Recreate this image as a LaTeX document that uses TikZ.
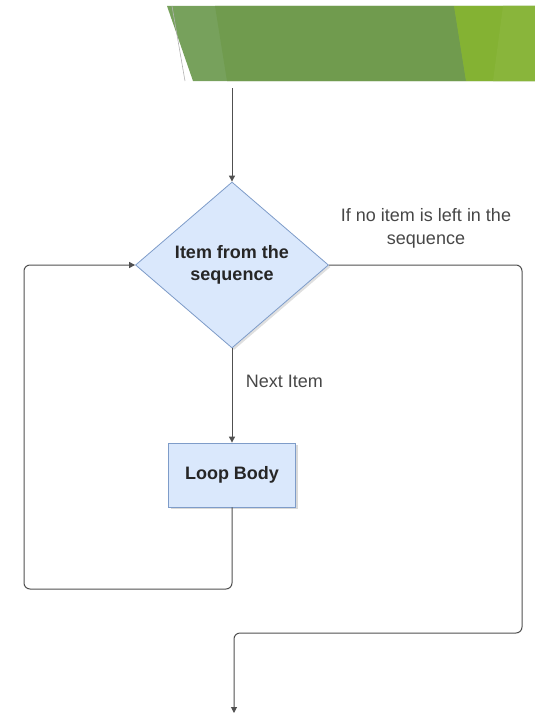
\documentclass[tikz,border=0pt]{standalone}
\usepackage{fontspec}
\setmainfont{Liberation Sans}
\usepackage{xcolor}
\usepackage{tikz}
\usetikzlibrary{positioning, arrows.meta, shapes.geometric, shadows}
\definecolor{boxfill}{HTML}{DAE8FC}
\definecolor{boxline}{HTML}{7E9CC9}
\definecolor{flowgray}{HTML}{505050}
\definecolor{greenpale}{HTML}{77A15C}
\definecolor{greenmain}{HTML}{709B4E}
\definecolor{greenlime}{HTML}{84B233}

\begin{document}
\begin{tikzpicture}[x=1pt, y=-1pt,
        decision/.style={diamond, draw=boxline, fill=boxfill, line width=0.8pt,
            minimum width=193pt, minimum height=166pt, inner sep=0pt, align=center,
            font=\fontsize{18}{22}\selectfont\bfseries, text=black!85,
            drop shadow={shadow xshift=2pt, shadow yshift=-2pt, opacity=0.25}},
        block/.style={draw=boxline, fill=boxfill, line width=0.8pt,
            minimum width=127pt, minimum height=64pt,
            font=\fontsize{18}{22}\selectfont\bfseries, text=black!85,
            drop shadow={shadow xshift=2pt, shadow yshift=-2pt, opacity=0.3}},
        flow/.style={draw=flowgray, line width=1pt, rounded corners=6pt},
        tip/.style={-{Triangle[length=6pt, width=6pt]}},
        lbl/.style={align=center, text=black!72, font=\fontsize{18}{23}\selectfont}
    ]
        \useasboundingbox (0,0) rectangle (535,725);
        % banner at the top
        \fill[greenpale] (167,6) -- (535,6) -- (535,81) -- (193,81) -- cycle;
        \fill[greenmain] (215,6) -- (454,6) -- (466,81) -- (227,81) -- cycle;
        \fill[greenlime] (454,6) -- (535,6) -- (535,81) -- (466,81) -- cycle;
        \fill[greenlime!96!white] (503,6) -- (535,6) -- (535,81) -- (493,81) -- cycle;
        \draw[black!30, line width=0.6pt] (172,6) -- (185,81);

        % flowchart
        \coordinate (start) at (232,88);
        \node[decision] (seq) at (232,265) {Item from the\\sequence};
        \node[block] (body) at (232,475) {Loop Body};
        \coordinate (loopbl) at (24,589);
        \coordinate (exitbr) at (522,633);
        \coordinate (stop) at (234,713);

        \draw[flow, tip] (start) -- (seq.north);
        \draw[flow, tip] (seq.south) -- (body.north)
            node[lbl, pos=0.35, anchor=west, xshift=10pt] (next) {Next Item};
        \draw[flow, tip] (body.south) |- (loopbl) |- (seq.west);
        \draw[flow, tip] (seq.east) -| (exitbr) -| (stop);
        \node[lbl] (noitem) at (426,228) {If no item is left in the\\sequence};

    \end{tikzpicture}
\end{document}
